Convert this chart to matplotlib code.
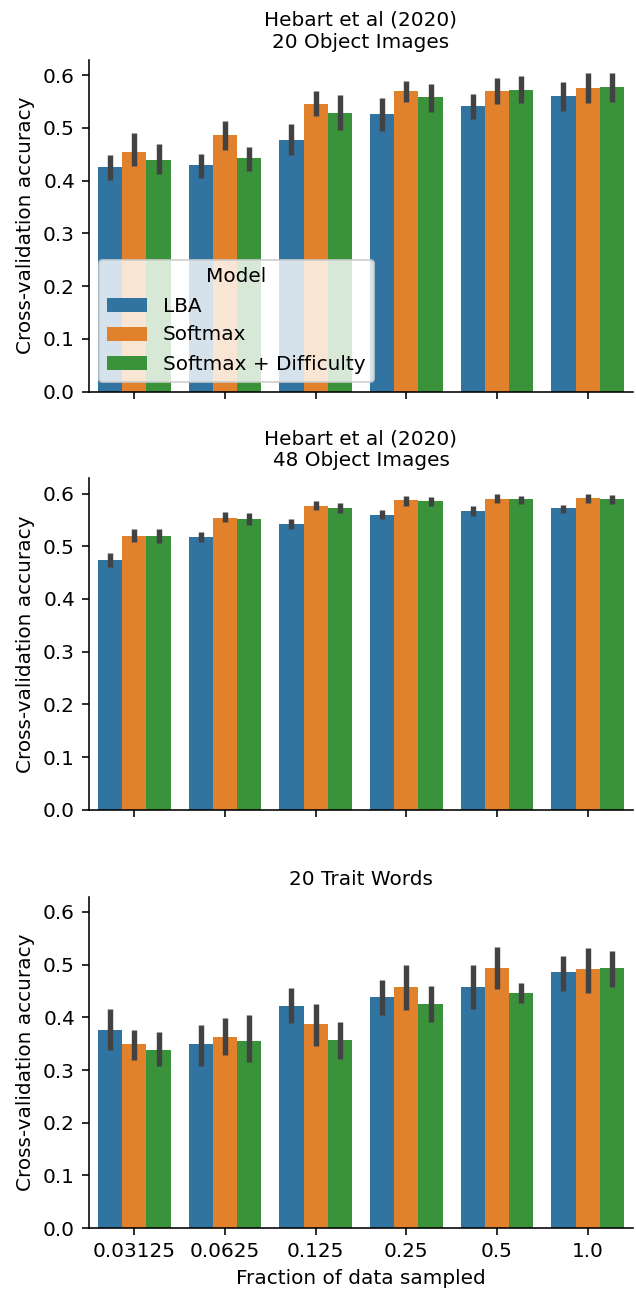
import matplotlib
matplotlib.use('Agg')
import matplotlib.pyplot as plt
import numpy as np

# x categories and hue levels
fractions = ['0.03125', '0.0625', '0.125', '0.25', '0.5', '1.0']
models = ['LBA', 'Softmax', 'Softmax + Difficulty']
colors = ['#3274a1', '#e1812c', '#3a923a']

titles = ['Hebart et al (2020)\n20 Object Images',
          'Hebart et al (2020)\n48 Object Images',
          '20 Trait Words']

# mean accuracy per model (rows) and fraction (cols)
img20_mean = [[0.426, 0.430, 0.477, 0.526, 0.541, 0.560],
              [0.454, 0.486, 0.546, 0.570, 0.571, 0.576],
              [0.440, 0.443, 0.528, 0.558, 0.573, 0.577]]
img20_lo = [[0.402, 0.406, 0.449, 0.494, 0.517, 0.532],
            [0.428, 0.459, 0.523, 0.549, 0.545, 0.548],
            [0.413, 0.418, 0.497, 0.531, 0.547, 0.549]]
img20_hi = [[0.448, 0.451, 0.508, 0.557, 0.564, 0.588],
            [0.490, 0.514, 0.570, 0.590, 0.594, 0.604],
            [0.469, 0.463, 0.562, 0.583, 0.598, 0.604]]

img48_mean = [[0.474, 0.518, 0.543, 0.560, 0.567, 0.572],
              [0.520, 0.554, 0.577, 0.587, 0.590, 0.592],
              [0.520, 0.552, 0.573, 0.585, 0.589, 0.589]]
img48_lo = [[0.461, 0.508, 0.533, 0.551, 0.558, 0.564],
            [0.508, 0.546, 0.568, 0.577, 0.582, 0.583],
            [0.506, 0.541, 0.564, 0.576, 0.580, 0.580]]
img48_hi = [[0.487, 0.528, 0.552, 0.569, 0.576, 0.579],
            [0.532, 0.565, 0.585, 0.596, 0.599, 0.600],
            [0.533, 0.563, 0.582, 0.594, 0.596, 0.598]]

words_mean = [[0.377, 0.349, 0.422, 0.438, 0.458, 0.487],
              [0.349, 0.363, 0.387, 0.458, 0.494, 0.492],
              [0.339, 0.356, 0.358, 0.426, 0.446, 0.494]]
words_lo = [[0.339, 0.308, 0.390, 0.405, 0.416, 0.451],
            [0.319, 0.328, 0.346, 0.414, 0.454, 0.446],
            [0.308, 0.315, 0.321, 0.391, 0.427, 0.458]]
words_hi = [[0.415, 0.385, 0.456, 0.471, 0.499, 0.516],
            [0.377, 0.398, 0.425, 0.499, 0.534, 0.532],
            [0.373, 0.404, 0.391, 0.459, 0.465, 0.526]]

panels = [(img20_mean, img20_lo, img20_hi),
          (img48_mean, img48_lo, img48_hi),
          (words_mean, words_lo, words_hi)]

plt.rcParams['font.family'] = ['DejaVu Sans']
plt.rcParams['font.size'] = 10

DPI = 144
W = 636.0
H = 1290.0
fig = plt.figure(figsize=(W / DPI, H / DPI), dpi=DPI)
tops = [60, 478.3, 896.7]
ax_h = 331.5
axes = []
for t in tops:
    ax = fig.add_axes([89 / W, (H - t - ax_h) / H, 544 / W, ax_h / H])
    axes.append(ax)

x = np.arange(len(fractions))
bw = 0.8 / len(models)
for k, ax in enumerate(axes):
    mean, lo, hi = panels[k]
    for j, m in enumerate(models):
        pos = x - 0.4 + bw * (j + 0.5)
        ax.bar(pos, mean[j], width=bw, color=colors[j], label=m, zorder=1)
        ax.vlines(pos, lo[j], hi[j], color='#424242', linewidth=2.7, zorder=2)
    ax.set_xlim(-0.5, len(fractions) - 0.5)
    ax.set_ylim(0, 0.629)
    ax.set_yticks([0.0, 0.1, 0.2, 0.3, 0.4, 0.5, 0.6])
    ax.set_xticks(x)
    ax.set_title(titles[k], fontsize=10)
    ax.set_ylabel('Cross-validation accuracy')
    ax.spines['top'].set_visible(False)
    ax.spines['right'].set_visible(False)
    if k < 2:
        ax.set_xticklabels([])
    else:
        ax.set_xticklabels(fractions)
        ax.set_xlabel('Fraction of data sampled')

axes[0].legend(title='Model', loc='lower left')

fig.savefig('out.png', dpi=DPI)
